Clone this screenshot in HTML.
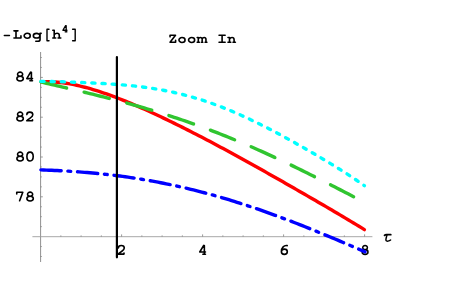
<!DOCTYPE html>
<html><head><meta charset="utf-8"><title>Zoom In</title>
<style>
html,body{margin:0;padding:0;background:#fff;}
body{width:463px;height:286px;overflow:hidden;position:relative;font-family:"Liberation Mono","Liberation Sans",sans-serif;}
svg{position:absolute;left:0;top:0;display:block;}
</style></head><body>
<svg width="463" height="286" viewBox="0 0 463 286">
<rect width="463" height="286" fill="#fff"/>
<g stroke="#909090" stroke-width="0.8" fill="none">
<line x1="32.4" y1="236.7" x2="372.4" y2="236.7"/>
</g>
<g stroke="#9a9a9a" stroke-width="1.1" fill="none">
<line x1="40.55" y1="52.1" x2="40.55" y2="262.0"/>
</g>
<g stroke="#808080" stroke-width="0.8" fill="none">
<line x1="60.85" y1="236.6" x2="60.85" y2="235.40"/>
<line x1="81.10" y1="236.6" x2="81.10" y2="235.40"/>
<line x1="101.35" y1="236.6" x2="101.35" y2="235.40"/>
<line x1="121.60" y1="236.6" x2="121.60" y2="234.40"/>
<line x1="141.85" y1="236.6" x2="141.85" y2="235.40"/>
<line x1="162.10" y1="236.6" x2="162.10" y2="235.40"/>
<line x1="182.35" y1="236.6" x2="182.35" y2="235.40"/>
<line x1="202.60" y1="236.6" x2="202.60" y2="234.40"/>
<line x1="222.85" y1="236.6" x2="222.85" y2="235.40"/>
<line x1="243.10" y1="236.6" x2="243.10" y2="235.40"/>
<line x1="263.35" y1="236.6" x2="263.35" y2="235.40"/>
<line x1="283.60" y1="236.6" x2="283.60" y2="234.40"/>
<line x1="303.85" y1="236.6" x2="303.85" y2="235.40"/>
<line x1="324.10" y1="236.6" x2="324.10" y2="235.40"/>
<line x1="344.35" y1="236.6" x2="344.35" y2="235.40"/>
<line x1="364.60" y1="236.6" x2="364.60" y2="234.40"/>
<line x1="40.6" y1="256.50" x2="41.80" y2="256.50"/>
<line x1="40.6" y1="246.55" x2="41.80" y2="246.55"/>
<line x1="40.6" y1="226.65" x2="41.80" y2="226.65"/>
<line x1="40.6" y1="216.70" x2="41.80" y2="216.70"/>
<line x1="40.6" y1="206.75" x2="41.80" y2="206.75"/>
<line x1="40.6" y1="196.80" x2="42.80" y2="196.80"/>
<line x1="40.6" y1="186.85" x2="41.80" y2="186.85"/>
<line x1="40.6" y1="176.90" x2="41.80" y2="176.90"/>
<line x1="40.6" y1="166.95" x2="41.80" y2="166.95"/>
<line x1="40.6" y1="157.00" x2="42.80" y2="157.00"/>
<line x1="40.6" y1="147.05" x2="41.80" y2="147.05"/>
<line x1="40.6" y1="137.10" x2="41.80" y2="137.10"/>
<line x1="40.6" y1="127.15" x2="41.80" y2="127.15"/>
<line x1="40.6" y1="117.20" x2="42.80" y2="117.20"/>
<line x1="40.6" y1="107.25" x2="41.80" y2="107.25"/>
<line x1="40.6" y1="97.30" x2="41.80" y2="97.30"/>
<line x1="40.6" y1="87.35" x2="41.80" y2="87.35"/>
<line x1="40.6" y1="77.40" x2="42.80" y2="77.40"/>
<line x1="40.6" y1="67.45" x2="41.80" y2="67.45"/>
<line x1="40.6" y1="57.50" x2="41.80" y2="57.50"/>
</g>
<g fill="none" stroke="#000" stroke-linecap="round" stroke-linejoin="round">
<path transform="translate(3.50,38.80)" d="M0.8,-3.3 H6.0" stroke-width="1.4"/>
<path transform="translate(13.10,38.80)" d="M0.85,-7.95 H4.85 M2.9,-7.95 V-0.85 M0.85,-0.85 H7.85 V-2.9" stroke-width="1.6"/>
<path transform="translate(23.40,38.80)" d="M0.75,-3.05 a3.05,2.45 0 1,0 6.1,0 a3.05,2.45 0 1,0 -6.1,0Z" stroke-width="1.6"/>
<path transform="translate(32.50,38.80)" d="M0.8499999999999996,-3.1 a3.25,2.35 0 1,0 6.5,0 a3.25,2.35 0 1,0 -6.5,0Z M7.55,-5.45 H8.65 M7.55,-5.45 V0.6 C7.55,2.0 6.6,2.45 5.3,2.45 H3.3" stroke-width="1.6"/>
<path transform="translate(46.20,38.80)" d="M2.8,-9.5 H0.8 V2.0 H2.8" stroke-width="1.4"/>
<path transform="translate(52.00,38.80)" d="M0.8,-8.6 H2.2 V-0.8 M0.8,-0.8 H3.7 M2.2,-3.9 C3.0,-5.0 4.0,-5.5 5.0,-5.5 C6.5,-5.5 7.3,-4.7 7.3,-3.3 V-0.8 M6.1,-0.8 H8.8" stroke-width="1.6"/>
<path transform="translate(71.80,38.80)" d="M0.8,-9.5 H3.4 V2.0 H0.8" stroke-width="1.4"/>
<path transform="translate(62.30,32.40) scale(0.720,0.72)" d="M5.4,-9.4 V-0.8 M4.6,-9.4 H5.4 M4.6,-9.4 L0.8,-3.0 H6.5 M3.9,-0.8 H6.5" stroke-width="1.806"/>
<path transform="translate(169.20,43.05)" d="M0.85,-6.2 V-7.85 H6.3 L0.85,-0.85 H6.4 V-2.7" stroke-width="1.6"/>
<path transform="translate(178.20,43.05)" d="M0.75,-3.05 a3.05,2.45 0 1,0 6.1,0 a3.05,2.45 0 1,0 -6.1,0Z" stroke-width="1.6"/>
<path transform="translate(187.80,43.05)" d="M0.75,-3.05 a3.05,2.45 0 1,0 6.1,0 a3.05,2.45 0 1,0 -6.1,0Z" stroke-width="1.6"/>
<path transform="translate(196.40,43.05)" d="M0.8,-5.55 H1.9 V-0.85 M0.8,-0.85 H3.0 M1.9,-4.2 C2.4,-5.2 3.1,-5.6 3.9,-5.6 C5.1,-5.6 5.75,-4.9 5.75,-3.7 V-0.85 M5.75,-4.2 C6.2,-5.2 6.9,-5.6 7.7,-5.6 C8.9,-5.6 9.55,-4.9 9.55,-3.7 V-0.85 M5.0,-0.85 H6.4 M8.7,-0.85 H10.5" stroke-width="1.6"/>
<path transform="translate(218.20,43.05)" d="M0.85,-7.85 H6.95 M3.9,-7.85 V-0.85 M0.85,-0.85 H6.95" stroke-width="1.6"/>
<path transform="translate(227.20,43.05)" d="M0.8,-5.55 H2.3 V-0.85 M0.8,-0.85 H3.6 M2.3,-3.9 C3.0,-5.0 3.9,-5.55 4.8,-5.55 C6.2,-5.55 6.9,-4.7 6.9,-3.4 V-0.85 M5.8,-0.85 H8.2" stroke-width="1.6"/>
<path transform="translate(16.00,81.60)" d="M1.5499999999999998,-7.4 a2.55,2.05 0 1,0 5.1,0 a2.55,2.05 0 1,0 -5.1,0Z M0.8999999999999995,-3.0 a3.2,2.35 0 1,0 6.4,0 a3.2,2.35 0 1,0 -6.4,0Z" stroke-width="1.6"/>
<path transform="translate(26.00,81.60)" d="M5.4,-9.4 V-0.8 M4.6,-9.4 H5.4 M4.6,-9.4 L0.8,-3.0 H6.5 M3.9,-0.8 H6.5" stroke-width="1.6"/>
<path transform="translate(16.00,121.60)" d="M1.5499999999999998,-7.4 a2.55,2.05 0 1,0 5.1,0 a2.55,2.05 0 1,0 -5.1,0Z M0.8999999999999995,-3.0 a3.2,2.35 0 1,0 6.4,0 a3.2,2.35 0 1,0 -6.4,0Z" stroke-width="1.6"/>
<path transform="translate(25.90,121.60)" d="M0.95,-7.0 C0.95,-8.6 2.3,-9.45 3.9,-9.45 C5.7,-9.45 6.9,-8.4 6.9,-6.9 C6.9,-5.5 5.8,-4.6 4.2,-3.5 C2.8,-2.5 1.6,-1.7 0.85,-0.9 H6.6 V-1.9" stroke-width="1.6"/>
<path transform="translate(16.00,161.60)" d="M1.5499999999999998,-7.4 a2.55,2.05 0 1,0 5.1,0 a2.55,2.05 0 1,0 -5.1,0Z M0.8999999999999995,-3.0 a3.2,2.35 0 1,0 6.4,0 a3.2,2.35 0 1,0 -6.4,0Z" stroke-width="1.6"/>
<path transform="translate(26.20,161.60)" d="M0.70,-5.05 C0.70,-7.95 1.77,-9.45 3.85,-9.45 C5.93,-9.45 7.00,-7.95 7.00,-5.05 C7.00,-2.15 5.93,-0.65 3.85,-0.65 C1.77,-0.65 0.70,-2.15 0.70,-5.05Z" stroke-width="1.6"/>
<path transform="translate(15.90,201.60)" d="M0.85,-7.6 V-9.35 H6.9 L3.7,-0.85" stroke-width="1.6"/>
<path transform="translate(26.00,201.60)" d="M1.5499999999999998,-7.4 a2.55,2.05 0 1,0 5.1,0 a2.55,2.05 0 1,0 -5.1,0Z M0.8999999999999995,-3.0 a3.2,2.35 0 1,0 6.4,0 a3.2,2.35 0 1,0 -6.4,0Z" stroke-width="1.6"/>
<path transform="translate(117.40,255.00)" d="M0.95,-7.0 C0.95,-8.6 2.3,-9.45 3.9,-9.45 C5.7,-9.45 6.9,-8.4 6.9,-6.9 C6.9,-5.5 5.8,-4.6 4.2,-3.5 C2.8,-2.5 1.6,-1.7 0.85,-0.9 H6.6 V-1.9" stroke-width="1.6"/>
<path transform="translate(198.95,255.00)" d="M5.4,-9.4 V-0.8 M4.6,-9.4 H5.4 M4.6,-9.4 L0.8,-3.0 H6.5 M3.9,-0.8 H6.5" stroke-width="1.6"/>
<path transform="translate(280.50,255.00)" d="M0.8999999999999999,-3.25 a2.95,2.6 0 1,0 5.9,0 a2.95,2.6 0 1,0 -5.9,0Z M6.7,-9.35 C3.6,-9.9 0.9,-7.6 0.9,-3.3" stroke-width="1.6"/>
<path transform="translate(361.30,255.00) scale(0.920,1.0)" d="M1.5499999999999998,-7.4 a2.55,2.05 0 1,0 5.1,0 a2.55,2.05 0 1,0 -5.1,0Z M0.8999999999999995,-3.0 a3.2,2.35 0 1,0 6.4,0 a3.2,2.35 0 1,0 -6.4,0Z" stroke-width="1.600"/>
</g>
<g fill="none" stroke="#000" stroke-width="1.3" stroke-linecap="round" stroke-linejoin="round">
<path d="M384.5,235.3 C385.0,234.8 385.6,234.7 386.5,234.7 H390.8" stroke-width="1.7"/>
<path d="M387.0,234.8 C386.6,236.5 385.9,238.3 385.9,239.7 C385.9,241.0 387.0,241.3 388.0,241.1 C389.0,240.9 390.0,240.5 390.6,240.0" stroke-width="1.45"/>
</g>
<g fill="none" stroke-linecap="round" stroke-linejoin="round" stroke-width="3.4">
<path d="M41.40,81.88 L44.11,81.76 L46.83,81.72 L49.54,81.75 L52.26,81.84 L54.97,82.00 L57.69,82.22 L60.40,82.50 L63.11,82.84 L65.83,83.22 L68.54,83.66 L71.26,84.15 L73.97,84.68 L76.69,85.26 L79.40,85.87 L82.11,86.53 L84.83,87.23 L87.54,87.96 L90.26,88.73 L92.97,89.53 L95.69,90.36 L98.40,91.22 L101.11,92.11 L103.83,93.02 L106.54,93.96 L109.26,94.93 L111.97,95.92 L114.69,96.93 L117.40,97.97 L120.11,99.02 L122.83,100.10 L125.54,101.19 L128.26,102.30 L130.97,103.43 L133.69,104.58 L136.40,105.74 L139.11,106.92 L141.83,108.11 L144.54,109.31 L147.26,110.53 L149.97,111.76 L152.69,113.00 L155.40,114.26 L158.11,115.53 L160.83,116.81 L163.54,118.09 L166.26,119.39 L168.97,120.70 L171.69,122.02 L174.40,123.35 L177.11,124.69 L179.83,126.04 L182.54,127.39 L185.26,128.76 L187.97,130.13 L190.69,131.51 L193.40,132.90 L196.11,134.29 L198.83,135.70 L201.54,137.10 L204.26,138.52 L206.97,139.94 L209.69,141.37 L212.40,142.81 L215.11,144.25 L217.83,145.70 L220.54,147.16 L223.26,148.62 L225.97,150.08 L228.69,151.55 L231.40,153.03 L234.11,154.51 L236.83,156.00 L239.54,157.49 L242.26,158.98 L244.97,160.48 L247.69,161.99 L250.40,163.49 L253.11,165.01 L255.83,166.52 L258.54,168.04 L261.26,169.56 L263.97,171.09 L266.69,172.62 L269.40,174.15 L272.11,175.69 L274.83,177.22 L277.54,178.77 L280.26,180.31 L282.97,181.85 L285.69,183.40 L288.40,184.95 L291.11,186.51 L293.83,188.06 L296.54,189.62 L299.26,191.18 L301.97,192.74 L304.69,194.31 L307.40,195.87 L310.11,197.44 L312.83,199.01 L315.54,200.58 L318.26,202.16 L320.97,203.74 L323.69,205.32 L326.40,206.90 L329.11,208.49 L331.83,210.08 L334.54,211.67 L337.26,213.27 L339.97,214.88 L342.69,216.48 L345.40,218.10 L348.11,219.72 L350.83,221.34 L353.54,222.98 L356.26,224.62 L358.97,226.26 L361.69,227.92 L364.40,229.59" stroke="#ff0000"/>
<path d="M40.90,81.97 L43.62,82.61 L46.34,83.25 L49.06,83.89 L51.77,84.52 L54.49,85.16 L57.21,85.80 L59.93,86.43 L62.65,87.07 L65.37,87.71 L68.08,88.35 L70.80,88.99 L73.52,89.63 L76.24,90.28 L78.96,90.92 L81.68,91.58 L84.40,92.23 L87.11,92.89 L89.83,93.55 L92.55,94.22 L95.27,94.89 L97.99,95.56 L100.71,96.24 L103.43,96.93 L106.14,97.62 L108.86,98.31 L111.58,99.02 L114.30,99.73 L117.02,100.44 L119.74,101.16 L122.45,101.89 L125.17,102.63 L127.89,103.37 L130.61,104.12 L133.33,104.88 L136.05,105.65 L138.77,106.42 L141.48,107.20 L144.20,107.99 L146.92,108.79 L149.64,109.60 L152.36,110.42 L155.08,111.24 L157.79,112.08 L160.51,112.92 L163.23,113.77 L165.95,114.63 L168.67,115.51 L171.39,116.39 L174.11,117.28 L176.82,118.18 L179.54,119.09 L182.26,120.01 L184.98,120.94 L187.70,121.88 L190.42,122.83 L193.14,123.80 L195.85,124.77 L198.57,125.75 L201.29,126.74 L204.01,127.74 L206.73,128.76 L209.45,129.78 L212.16,130.81 L214.88,131.86 L217.60,132.91 L220.32,133.98 L223.04,135.05 L225.76,136.14 L228.48,137.23 L231.19,138.34 L233.91,139.45 L236.63,140.58 L239.35,141.71 L242.07,142.86 L244.79,144.01 L247.51,145.18 L250.22,146.35 L252.94,147.54 L255.66,148.73 L258.38,149.94 L261.10,151.15 L263.82,152.37 L266.53,153.60 L269.25,154.84 L271.97,156.09 L274.69,157.35 L277.41,158.61 L280.13,159.89 L282.85,161.17 L285.56,162.46 L288.28,163.76 L291.00,165.06 L293.72,166.38 L296.44,167.70 L299.16,169.03 L301.87,170.36 L304.59,171.70 L307.31,173.05 L310.03,174.40 L312.75,175.76 L315.47,177.13 L318.19,178.50 L320.90,179.88 L323.62,181.26 L326.34,182.64 L329.06,184.03 L331.78,185.43 L334.50,186.83 L337.22,188.23 L339.93,189.63 L342.65,191.04 L345.37,192.45 L348.09,193.86 L350.81,195.28 L353.53,196.70 L356.24,198.11 L358.96,199.53 L361.68,200.95 L364.40,202.37" stroke="#30c530" stroke-dasharray="26.4 18 26 18 26 18 26 18 26 18 26 18 26 18 26 18 26 18 26 18 26 18"/>
<path d="M40.90,81.38 L43.62,81.40 L46.34,81.44 L49.06,81.48 L51.77,81.54 L54.49,81.60 L57.21,81.67 L59.93,81.74 L62.65,81.82 L65.37,81.91 L68.08,82.00 L70.80,82.09 L73.52,82.18 L76.24,82.29 L78.96,82.39 L81.68,82.50 L84.40,82.61 L87.11,82.73 L89.83,82.85 L92.55,82.98 L95.27,83.11 L97.99,83.25 L100.71,83.40 L103.43,83.55 L106.14,83.71 L108.86,83.88 L111.58,84.06 L114.30,84.25 L117.02,84.45 L119.74,84.66 L122.45,84.89 L125.17,85.13 L127.89,85.38 L130.61,85.64 L133.33,85.92 L136.05,86.22 L138.77,86.54 L141.48,86.87 L144.20,87.22 L146.92,87.59 L149.64,87.98 L152.36,88.39 L155.08,88.82 L157.79,89.28 L160.51,89.75 L163.23,90.25 L165.95,90.77 L168.67,91.32 L171.39,91.89 L174.11,92.48 L176.82,93.10 L179.54,93.75 L182.26,94.42 L184.98,95.11 L187.70,95.84 L190.42,96.58 L193.14,97.36 L195.85,98.16 L198.57,98.99 L201.29,99.84 L204.01,100.72 L206.73,101.63 L209.45,102.56 L212.16,103.52 L214.88,104.51 L217.60,105.52 L220.32,106.55 L223.04,107.61 L225.76,108.70 L228.48,109.80 L231.19,110.94 L233.91,112.09 L236.63,113.27 L239.35,114.47 L242.07,115.69 L244.79,116.93 L247.51,118.19 L250.22,119.47 L252.94,120.78 L255.66,122.09 L258.38,123.43 L261.10,124.79 L263.82,126.16 L266.53,127.54 L269.25,128.95 L271.97,130.36 L274.69,131.79 L277.41,133.24 L280.13,134.69 L282.85,136.16 L285.56,137.64 L288.28,139.13 L291.00,140.63 L293.72,142.15 L296.44,143.67 L299.16,145.20 L301.87,146.74 L304.59,148.29 L307.31,149.86 L310.03,151.43 L312.75,153.00 L315.47,154.59 L318.19,156.19 L320.90,157.80 L323.62,159.42 L326.34,161.05 L329.06,162.69 L331.78,164.34 L334.50,166.01 L337.22,167.70 L339.93,169.40 L342.65,171.11 L345.37,172.85 L348.09,174.60 L350.81,176.38 L353.53,178.19 L356.24,180.02 L358.96,181.88 L361.68,183.78 L364.40,185.71" stroke="#00ffff" stroke-dasharray="3.2 6.985"/>
<path d="M40.90,169.89 L43.62,169.99 L46.35,170.09 L49.07,170.20 L51.79,170.31 L54.52,170.43 L57.24,170.56 L59.96,170.70 L62.69,170.85 L65.41,171.00 L68.14,171.17 L70.86,171.34 L73.58,171.52 L76.31,171.71 L79.03,171.90 L81.75,172.11 L84.48,172.33 L87.20,172.55 L89.92,172.79 L92.65,173.04 L95.37,173.29 L98.09,173.56 L100.82,173.83 L103.54,174.12 L106.26,174.42 L108.99,174.72 L111.71,175.04 L114.44,175.37 L117.16,175.71 L119.88,176.06 L122.61,176.43 L125.33,176.80 L128.05,177.19 L130.78,177.58 L133.50,177.99 L136.22,178.41 L138.95,178.84 L141.67,179.28 L144.39,179.74 L147.12,180.20 L149.84,180.68 L152.56,181.17 L155.29,181.67 L158.01,182.19 L160.74,182.71 L163.46,183.25 L166.18,183.80 L168.91,184.36 L171.63,184.93 L174.35,185.52 L177.08,186.12 L179.80,186.73 L182.52,187.35 L185.25,187.98 L187.97,188.63 L190.69,189.29 L193.42,189.96 L196.14,190.64 L198.86,191.33 L201.59,192.04 L204.31,192.75 L207.04,193.48 L209.76,194.22 L212.48,194.98 L215.21,195.74 L217.93,196.52 L220.65,197.30 L223.38,198.10 L226.10,198.91 L228.82,199.73 L231.55,200.56 L234.27,201.41 L236.99,202.26 L239.72,203.12 L242.44,204.00 L245.16,204.88 L247.89,205.78 L250.61,206.69 L253.34,207.60 L256.06,208.53 L258.78,209.47 L261.51,210.42 L264.23,211.37 L266.95,212.34 L269.68,213.31 L272.40,214.30 L275.12,215.29 L277.85,216.29 L280.57,217.30 L283.29,218.32 L286.02,219.35 L288.74,220.39 L291.46,221.43 L294.19,222.48 L296.91,223.54 L299.64,224.61 L302.36,225.68 L305.08,226.76 L307.81,227.85 L310.53,228.95 L313.25,230.05 L315.98,231.15 L318.70,232.27 L321.42,233.38 L324.15,234.51 L326.87,235.63 L329.59,236.77 L332.32,237.90 L335.04,239.05 L337.76,240.19 L340.49,241.34 L343.21,242.50 L345.94,243.65 L348.66,244.81 L351.38,245.97 L354.11,247.14 L356.83,248.30 L359.55,249.47 L362.28,250.64 L365.00,251.81" stroke="#0000ff" stroke-dasharray="20.3 6.7 2.85 6.8 20.3 6.7 2.85 6.8 20.3 6.7 2.85 6.8 20.3 6.7 2.85 6.8 20.3 6.7 2.85 6.8 20.3 6.7 2.85 6.8 20.3 6.7 2.85 6.8 20.3 6.7 2.85 6.8 20.3 6.7 2.85 6.8 20.3 6.7 2.85 6.8 20.3 6.7 2.85 6.8 20.3 6.7 2.85 6.8 20.3 6.7 2.85 6.8"/>
<line x1="116.9" y1="57" x2="116.9" y2="257.3" stroke="#000" stroke-width="2.2"/>
</g>
</svg>
</body></html>
